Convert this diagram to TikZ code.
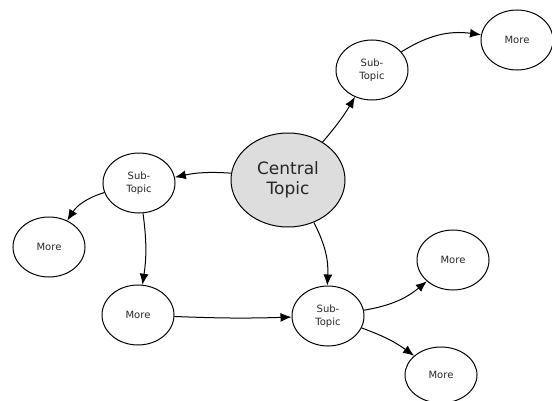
\documentclass[tikz,border=0pt]{standalone}
\usepackage{fontspec}
\setmainfont{DejaVu Sans}
\usetikzlibrary{arrows.meta,shapes.geometric}
\definecolor{topicgray}{RGB}{221,221,221}

\begin{document}
\begin{tikzpicture}[x=1pt,y=1pt,line width=1pt,
    bubble/.style={draw,ellipse,inner sep=0pt,minimum width=72pt,minimum height=60pt,
      align=center,font=\fontsize{10}{13}\selectfont,text=black!85},
    central/.style={bubble,fill=topicgray,minimum width=114pt,minimum height=94pt,
      font=\fontsize{17}{20}\selectfont},
    link/.style={-{Latex[length=11pt,width=9pt]}}]
      \useasboundingbox (0,0) rectangle (552,400);
      \node[central] (ct) at (288,220) {Central\\Topic};
      \node[bubble] (subtr) at (372,330) {Sub-\\Topic};
      \node[bubble] (moretr) at (517,360) {More};
      \node[bubble] (subl) at (139,217) {Sub-\\Topic};
      \node[bubble] (morel) at (49,153) {More};
      \node[bubble] (morebl) at (138,85) {More};
      \node[bubble] (subb) at (328,84) {Sub-\\Topic};
      \node[bubble] (morer) at (453,140) {More};
      \node[bubble,minimum height=56pt] (morebr) at (441,25) {More};
      % links out of the central topic
      \draw[link] (ct) to[bend right=5] (subtr);
      \draw[link] (ct) to[bend right=8] (subl);
      \draw[link] (ct) to[bend left=15] (subb);
      % links out of the sub-topics
      \draw[link] (subtr) to[bend left=20] (moretr);
      \draw[link] (subl) to[bend right=20] (morel);
      \draw[link] (subl) to[bend left=8] (morebl);
      \draw[link] (morebl) to[bend right=2] (subb);
      \draw[link] (subb) to[bend right=15] (morer);
      \draw[link] (subb) to[bend left=8] (morebr);
\end{tikzpicture}
\end{document}
